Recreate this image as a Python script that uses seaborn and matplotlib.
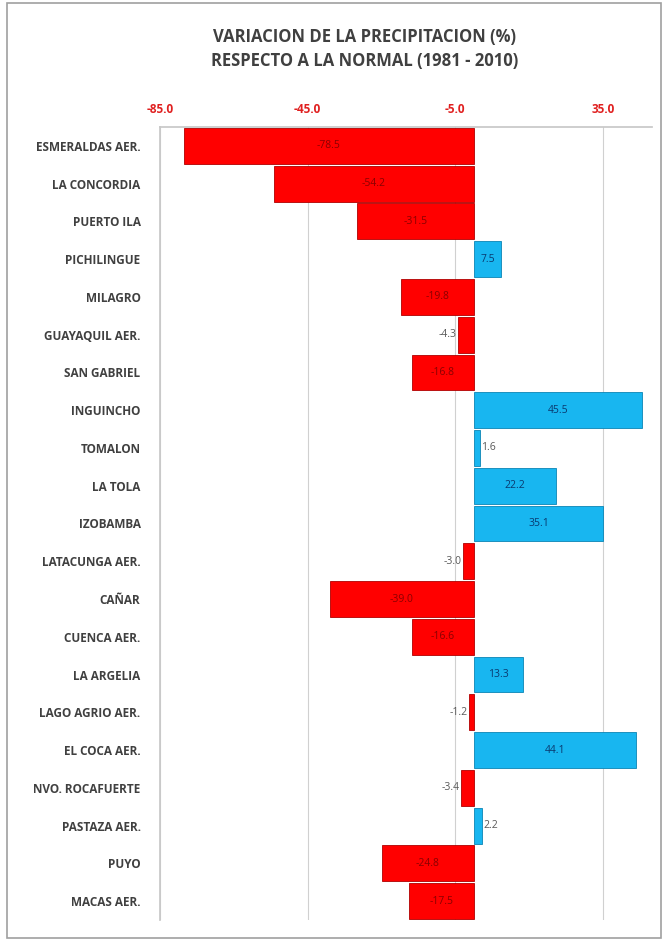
import matplotlib
matplotlib.use("Agg")
import matplotlib.pyplot as plt
import seaborn as sns
import pandas as pd
from matplotlib.patches import Rectangle

stations = ["ESMERALDAS AER.", "LA CONCORDIA", "PUERTO ILA", "PICHILINGUE", "MILAGRO",
            "GUAYAQUIL AER.", "SAN GABRIEL", "INGUINCHO", "TOMALON", "LA TOLA",
            "IZOBAMBA", "LATACUNGA AER.", "CAÑAR", "CUENCA AER.", "LA ARGELIA",
            "LAGO AGRIO AER.", "EL COCA AER.", "NVO. ROCAFUERTE", "PASTAZA AER.",
            "PUYO", "MACAS AER."]
values = [-78.5, -54.2, -31.5, 7.5, -19.8, -4.3, -16.8, 45.5, 1.6, 22.2,
          35.1, -3.0, -39.0, -16.6, 13.3, -1.2, 44.1, -3.4, 2.2, -24.8, -17.5]
tick_values = [-85.0, -45.0, -5.0, 35.0]

sns.set_theme(style="white")
plt.rcParams['font.family'] = ['Open Sans', 'DejaVu Sans']

df = pd.DataFrame({"station": stations, "value": values})
df["sign"] = ["neg" if v < 0 else "pos" for v in values]

fig = plt.figure(figsize=(6.71, 9.44), dpi=100)
ax = fig.add_axes([160/671, 1 - 920/944, (652-160)/671, (920-127)/944])

sns.barplot(data=df, x="value", y="station", hue="sign",
            palette={"neg": "#FF0000", "pos": "#18B6F0"}, dodge=False,
            legend=False, width=0.95, ax=ax, orient="h",
            edgecolor="#B00000", linewidth=0.6, saturation=1)
for bar in ax.patches:
    if bar.get_width() > 0:
        bar.set_edgecolor("#0A85B5")

ax.set_xlim(-85, 48.3)
ax.set_ylim(len(stations) - 0.5, -0.5)
ax.xaxis.tick_top()
ax.set_xticks(tick_values)
ax.set_xticklabels([f"{t:.1f}" for t in tick_values], color="#E02020",
                   fontsize=8.5, fontweight="bold")
ax.tick_params(axis="x", length=0, pad=8)
ax.tick_params(axis="y", length=0, pad=14)
for lbl in ax.get_yticklabels():
    lbl.set_fontsize(8.5)
    lbl.set_fontweight("bold")
    lbl.set_color("#404040")
ax.set_xlabel("")
ax.set_ylabel("")
ax.grid(axis="x", color="#D0D0D0", linewidth=0.8)
ax.set_axisbelow(True)
for s in ["right", "bottom"]:
    ax.spines[s].set_visible(False)
ax.spines["top"].set_color("#C8C8C8")
ax.spines["left"].set_color("#C8C8C8")

for i, v in enumerate(values):
    if abs(v) >= 7:
        col = "#8A0000" if v < 0 else "#0A3A70"
        ax.text(v / 2, i, f"{v:.1f}", ha="center", va="center", fontsize=7.5, color=col)
    else:
        if v < 0:
            ax.text(v - 0.3, i, f"{v:.1f}", ha="right", va="center", fontsize=7.5, color="#595959")
        else:
            ax.text(v + 0.4, i, f"{v:.1f}", ha="left", va="center", fontsize=7.5, color="#595959")

fig.text(0.543, 1 - 37/944, "VARIACION DE LA PRECIPITACION (%)", ha="center", va="center",
         fontsize=12, fontweight="bold", color="#404040")
fig.text(0.543, 1 - 61/944, "RESPECTO A LA NORMAL (1981 - 2010)", ha="center", va="center",
         fontsize=12, fontweight="bold", color="#404040")

fig.patches.append(Rectangle((7/671, 1 - 938/944), (661-7)/671, (938-3)/944,
                             transform=fig.transFigure, fill=False,
                             edgecolor="#A0A0A0", linewidth=1.2))

fig.savefig("out.png", dpi=100)
